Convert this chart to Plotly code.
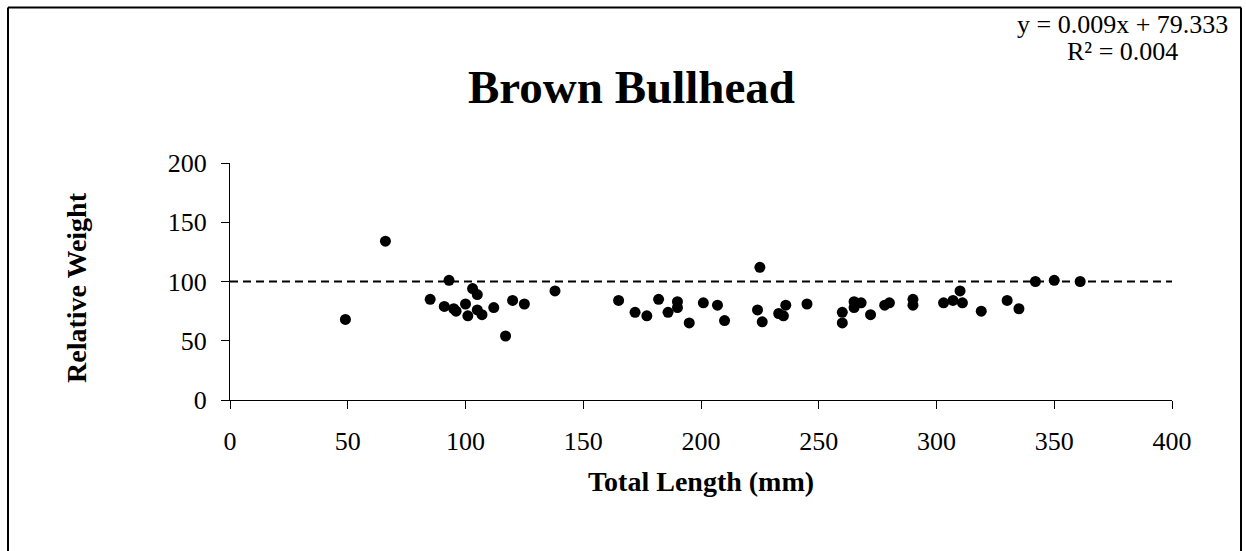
import plotly.graph_objects as go

# Data
total_length = [49, 66, 93, 85, 91, 95, 96, 100, 101, 103, 105, 105, 107, 112, 117, 120, 125,
                138, 165, 172, 177, 182, 186, 190, 190, 195, 201, 207, 210, 225, 224, 226,
                233, 235, 236, 245, 260, 260, 265, 265, 268, 272, 278, 280, 290, 290,
                303, 307, 310, 311, 319, 330, 335, 342, 350, 361]
relative_weight = [68, 134, 101, 85, 79, 77, 75, 81, 71, 94, 89, 76, 72, 78, 54, 84, 81,
                   92, 84, 74, 71, 85, 74, 83, 78, 65, 82, 80, 67, 112, 76, 66,
                   73, 71, 80, 81, 74, 65, 83, 78, 82, 72, 80, 82, 85, 80,
                   82, 84, 92, 82, 75, 84, 77, 100, 101, 100]
standard_x = [0, 400]
standard_y = [100, 100]
x_ticks = [0, 50, 100, 150, 200, 250, 300, 350, 400]
y_ticks = [0, 50, 100, 150, 200]
equation_text = "y = 0.009x + 79.333"
r2_text = "R² = 0.004"

FONT = "Times New Roman, Liberation Serif, serif"

fig = go.Figure()
fig.add_trace(go.Scatter(x=standard_x, y=standard_y, mode="lines",
                         line=dict(color="black", width=2, dash="8px,5px"),
                         showlegend=False, hoverinfo="skip"))
fig.add_trace(go.Scatter(x=total_length, y=relative_weight, mode="markers",
                         marker=dict(color="black", size=11),
                         showlegend=False))

L, R, T, B = 230, 1172, 163, 400
W, H = 1246, 551
pw, ph = R - L, B - T

def px(x):
    return (x - L) / pw

def py(y):
    return (B - y) / ph

fig.update_layout(
    width=W, height=H,
    margin=dict(l=L, r=W - R, t=T, b=H - B, pad=0),
    paper_bgcolor="white", plot_bgcolor="white",
    font=dict(family=FONT, size=26, color="black"),
    xaxis=dict(range=[0, 400], tickvals=x_ticks, showline=True, linecolor="black",
               linewidth=1, ticks="outside", ticklen=8, tickcolor="black",
               showgrid=False, zeroline=False, ticklabelstandoff=10),
    yaxis=dict(range=[0, 200], tickvals=y_ticks, showline=True, linecolor="black",
               linewidth=1, ticks="outside", ticklen=8, tickcolor="black",
               showgrid=False, zeroline=False, ticklabelstandoff=9),
    shapes=[
        dict(type="line", xref="paper", yref="paper", x0=px(8), x1=px(8), y0=py(560), y1=py(7.5),
             line=dict(color="black", width=2)),
        dict(type="line", xref="paper", yref="paper", x0=px(8), x1=px(1241), y0=py(7.5), y1=py(7.5),
             line=dict(color="black", width=2)),
        dict(type="line", xref="paper", yref="paper", x0=px(1241), x1=px(1241), y0=py(7.5), y1=py(560),
             line=dict(color="black", width=2)),
    ],
    annotations=[
        dict(text="<b>Brown Bullhead</b>", xref="paper", yref="paper", x=px(631), y=py(87),
             xanchor="center", yanchor="middle", showarrow=False, font=dict(size=47)),
        dict(text=equation_text, xref="paper", yref="paper",
             x=px(1122), y=py(24), xanchor="center", yanchor="middle", showarrow=False,
             font=dict(size=26)),
        dict(text=r2_text, xref="paper", yref="paper",
             x=px(1122), y=py(52), xanchor="center", yanchor="middle", showarrow=False,
             font=dict(size=26)),
        dict(text="<b>Relative Weight</b>", xref="paper", yref="paper", x=px(76), y=py(288),
             xanchor="center", yanchor="middle", textangle=-90, showarrow=False,
             font=dict(size=28)),
        dict(text="<b>Total Length (mm)</b>", xref="paper", yref="paper", x=px(701), y=py(481),
             xanchor="center", yanchor="middle", showarrow=False, font=dict(size=28)),
    ],
)

fig.write_html("out.html")
